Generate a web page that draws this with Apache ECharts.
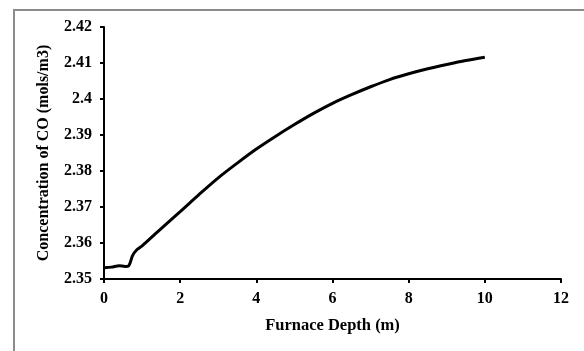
<!DOCTYPE html>
<html>
<head>
<meta charset="utf-8">
<script src="https://cdn.jsdelivr.net/npm/echarts@6/dist/echarts.min.js"></script>
<style>
  html, body { margin: 0; padding: 0; background: #fff; }
  #main { width: 584px; height: 351px; }
</style>
</head>
<body>
<div id="main"></div>
<script>
// furnace depth (m) and CO concentration (mols/m3)
const depth = [0, 0.2, 0.4, 0.55, 0.65, 0.75, 0.85, 1.0, 1.5, 2.0, 2.5, 3.0, 3.5, 4.0,
  4.5, 5.0, 5.5, 6.0, 6.5, 7.0, 7.5, 8.0, 8.5, 9.0, 9.5, 10];
const coConc = [2.3531, 2.3533, 2.3537, 2.3535, 2.3537, 2.3565, 2.3580, 2.3592, 2.3640,
  2.3687, 2.3735, 2.3781, 2.3822, 2.3861, 2.3896, 2.3929, 2.3960, 2.3988, 2.4012,
  2.4034, 2.4054, 2.4070, 2.4084, 2.4096, 2.4107, 2.4116];

const xName = 'Furnace Depth (m)';
const yName = 'Concentration of CO (mols/m3)';

const chart = echarts.init(document.getElementById('main'));
const font = 'Liberation Serif';

const option = {
  backgroundColor: '#fff',
  animation: false,
  graphic: [{
    type: 'rect',
    shape: { x: 14, y: 10, width: 620, height: 400 },
    style: { fill: 'none', stroke: '#8c8c8c', lineWidth: 2 },
    silent: true
  }],
  grid: { left: 104, right: 23, top: 27, bottom: 72 },
  xAxis: {
    type: 'value',
    min: 0,
    max: 12,
    interval: 2,
    name: xName,
    nameLocation: 'middle',
    nameGap: 38,
    nameTextStyle: { fontFamily: font, fontWeight: 'bold', fontSize: 16.5, color: '#000' },
    axisLine: { lineStyle: { color: '#000', width: 2 } },
    axisTick: { length: 4, lineStyle: { color: '#000', width: 2 } },
    axisLabel: { fontFamily: font, fontWeight: 'bold', fontSize: 16, color: '#000', margin: 12 },
    splitLine: { show: false }
  },
  yAxis: {
    type: 'value',
    min: 2.35,
    max: 2.42,
    interval: 0.01,
    name: yName,
    nameLocation: 'middle',
    nameGap: 52,
    nameTextStyle: { fontFamily: font, fontWeight: 'bold', fontSize: 16, color: '#000' },
    axisLine: { show: true, lineStyle: { color: '#000', width: 2 } },
    axisTick: { show: true, length: 4, lineStyle: { color: '#000', width: 2 } },
    axisLabel: {
      fontFamily: font, fontWeight: 'bold', fontSize: 16, color: '#000', margin: 12,
      formatter: v => String(Math.round(v * 100) / 100)
    },
    splitLine: { show: false }
  },
  series: [{
    type: 'line',
    data: depth.map((d, i) => [d, coConc[i]]),
    smooth: 0.3,
    showSymbol: false,
    lineStyle: { color: '#000', width: 3 }
  }]
};

chart.setOption(option);
</script>
</body>
</html>
